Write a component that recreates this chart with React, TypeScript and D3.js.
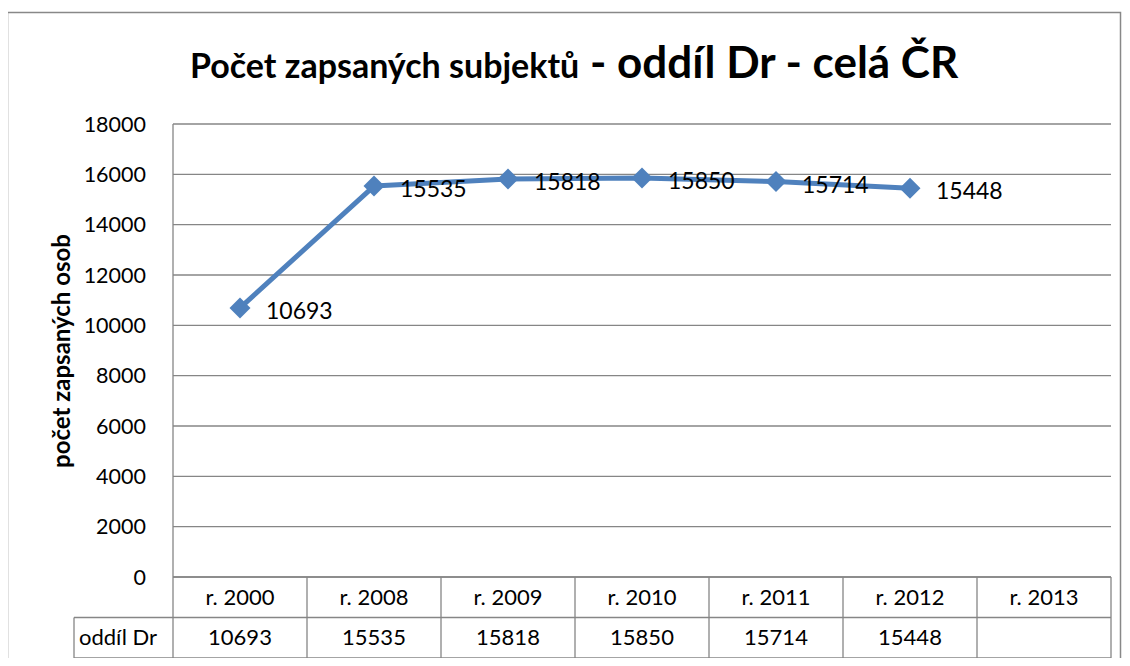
import * as d3 from "d3";

const categories = ["r. 2000", "r. 2008", "r. 2009", "r. 2010", "r. 2011", "r. 2012", "r. 2013"];
const values: (number | null)[] = [10693, 15535, 15818, 15850, 15714, 15448, null];
const seriesName = "oddíl Dr";
const yTicks = [0, 2000, 4000, 6000, 8000, 10000, 12000, 14000, 16000, 18000];

export default function App() {
  const width = 1130;
  const height = 666;
  const left = 173;
  const right = 1111;
  const top = 124;
  const bottom = 577;
  const rowH = 40.5;
  const font = "Lato, 'Open Sans', sans-serif";
  const blue = "#4F81BD";
  const grid = "#868686";

  const x = d3.scaleBand<string>().domain(categories).range([left, right]);
  const y = d3.scaleLinear().domain([0, 18000]).range([bottom, top]);
  const cx = (c: string) => (x(c) ?? 0) + x.bandwidth() / 2;

  const pts = categories
    .map((c, i) => ({ c, v: values[i] }))
    .filter((d) => d.v !== null) as { c: string; v: number }[];

  const line = d3.line<{ c: string; v: number }>()
    .x((d) => cx(d.c))
    .y((d) => y(d.v));

  const r = 10.5;
  const tableLeft = 74;

  return (
    <div style={{ margin: -8 }}>
      <svg width={width} height={height} xmlns="http://www.w3.org/2000/svg" style={{ display: "block", background: "#fff" }}>
        <rect x={7.5} y={12.5} width={1113} height={670} fill="#fff" stroke="#888" strokeWidth={1.5} />

        <text x={190} y={78} fontFamily={font} fontWeight="bold" fill="#000">
          <tspan fontSize={34}>Počet zapsaných subjektů</tspan>
          <tspan fontSize={44}> - oddíl Dr - celá ČR</tspan>
        </text>

        {/* gridlines */}
        {yTicks.map((t) => (
          <line key={t} x1={left} x2={right} y1={y(t)} y2={y(t)} stroke={grid} strokeWidth={1.3} />
        ))}
        <line x1={left} x2={left} y1={top} y2={bottom} stroke={grid} strokeWidth={1.3} />

        {/* y tick labels */}
        {yTicks.map((t) => (
          <text key={t} x={146} y={y(t)} dy="0.35em" textAnchor="end" fontFamily={font} fontSize={21.5} fill="#000">
            {t}
          </text>
        ))}

        <text
          transform={`translate(70, 351) rotate(-90)`}
          textAnchor="middle"
          fontFamily={font}
          fontWeight="bold"
          fontSize={24}
          fill="#000"
        >
          počet zapsaných osob
        </text>

        {/* data table */}
        <g stroke={grid} strokeWidth={1.3} fill="none">
          <line x1={left} x2={right} y1={bottom} y2={bottom} />
          <line x1={tableLeft} x2={right} y1={bottom + rowH} y2={bottom + rowH} />
          <line x1={tableLeft} x2={right} y1={bottom + 2 * rowH} y2={bottom + 2 * rowH} />
          <line x1={tableLeft} x2={tableLeft} y1={bottom + rowH} y2={bottom + 2 * rowH} />
          {categories.map((c) => (
            <line key={c} x1={x(c)} x2={x(c)} y1={bottom} y2={bottom + 2 * rowH} />
          ))}
          <line x1={right} x2={right} y1={bottom} y2={bottom + 2 * rowH} />
        </g>
        {categories.map((c, i) => (
          <g key={c} fontFamily={font} fontSize={22} fill="#000" textAnchor="middle">
            <text x={cx(c)} y={bottom + rowH / 2} dy="0.35em">{c}</text>
            <text x={cx(c)} y={bottom + rowH * 1.5} dy="0.35em">{values[i] ?? ""}</text>
          </g>
        ))}
        <text x={tableLeft + 5} y={bottom + rowH * 1.5} dy="0.35em" fontFamily={font} fontSize={22} fill="#000">
          {seriesName}
        </text>

        {/* line */}
        <path d={line(pts) ?? ""} fill="none" stroke={blue} strokeWidth={5} strokeLinejoin="round" />
        {pts.map((d) => (
          <path
            key={d.c}
            d={`M${cx(d.c)},${y(d.v) - r}L${cx(d.c) + r},${y(d.v)}L${cx(d.c)},${y(d.v) + r}L${cx(d.c) - r},${y(d.v)}Z`}
            fill={blue}
          />
        ))}
        {pts.map((d) => (
          <text key={d.c} x={cx(d.c) + 26} y={y(d.v) + 3} dy="0.35em" fontFamily={font} fontSize={23} fill="#000">
            {d.v}
          </text>
        ))}
      </svg>
    </div>
  );
}
